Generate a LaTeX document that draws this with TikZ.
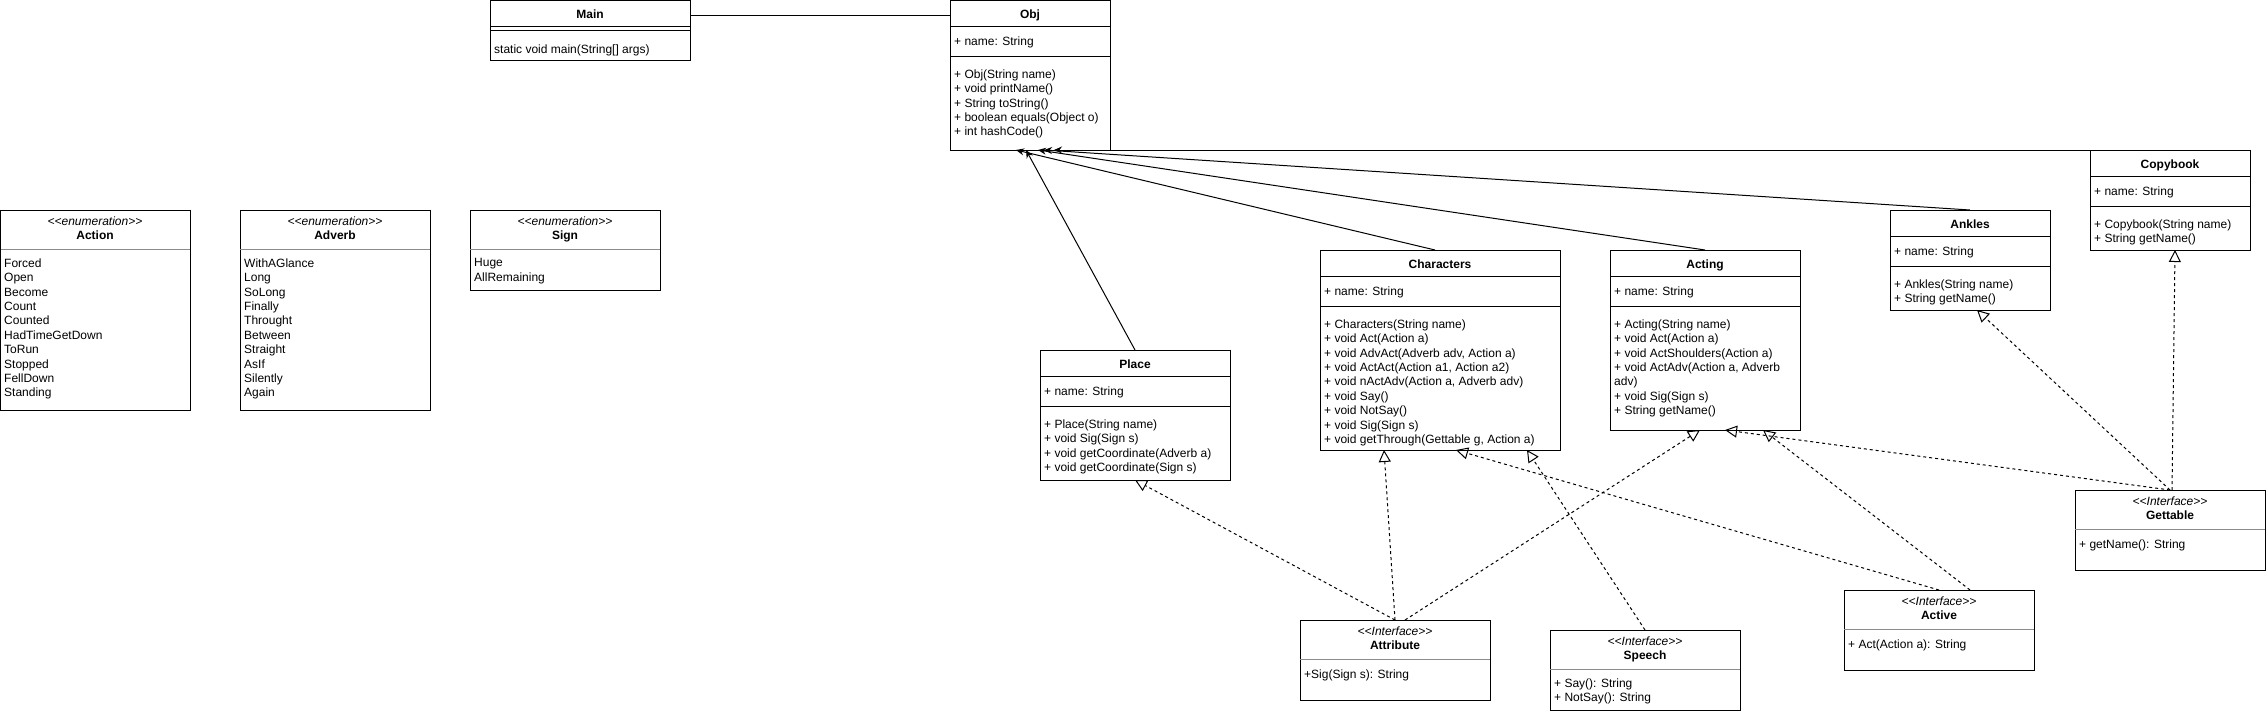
\documentclass[tikz,border=0pt]{standalone}
\usepackage{fontspec}
\setmainfont{Liberation Sans}
\usetikzlibrary{arrows.meta}

\tikzset{
	cls/.style={draw, line width=1pt, anchor=north west, inner sep=0pt, outer sep=0pt},
	ttl/.style={font=\fontsize{12}{14.4}\selectfont\bfseries, anchor=base, inner sep=0pt},
	stereo/.style={font=\fontsize{12}{14.4}\selectfont\itshape, anchor=base, inner sep=0pt},
	rows/.style={font=\fontsize{12}{14.4}\selectfont, anchor=north west, align=left, inner sep=0pt, yshift=7.6pt, execute at begin node=\strut},
	sepline/.style={line width=1pt},
	graysep/.style={line width=1pt, draw=black!45},
	assoc/.style={line width=1pt, -{Stealth[length=8pt,width=7pt]}},
	realize/.style={line width=1pt, dash pattern=on 3pt off 3pt, -{Triangle[open,length=12pt,width=12pt]}}
}

\begin{document}
\begin{tikzpicture}[x=1pt, y=-1pt]
				\useasboundingbox (0,0) rectangle (2267,712);

				\node[cls, minimum width=200pt, minimum height=60pt] (main) at (490,0) {};
				\node[ttl] (mainT) at (590,18) {Main};
				\draw[sepline] (490,26) -- (690,26);
				\draw[sepline] (490,30) -- (690,30);
				\node[rows] (mainM) at (494,51) {static void main(String[] args)};

				\node[cls, minimum width=160pt, minimum height=150pt] (obj) at (950,0) {};
				\node[ttl] (objT) at (1030,18) {Obj};
				\draw[sepline] (950,26) -- (1110,26);
				\draw[sepline] (950,56) -- (1110,56);
				\node[rows] (objA) at (954,43) {+ name: String};
				\node[rows] (objM) at (954,77) {+ Obj(String name)\\+ void printName()\\+ String toString()\\+ boolean equals(Object o)\\+ int hashCode()};

				\node[cls, minimum width=190pt, minimum height=200pt] (action) at (0.5,210) {};
				\node[stereo] (actionS) at (95,225) {<{}<enumeration>{}>};
				\node[ttl] (actionT) at (95,239) {Action};
				\draw[graysep] (0.5,249) -- (190,249);
				\node[rows] (actionV) at (4,266) {Forced\\Open\\Become\\Count\\Counted\\HadTimeGetDown\\ToRun\\Stopped\\FellDown\\Standing};

				\node[cls, minimum width=190pt, minimum height=200pt] (adverb) at (240,210) {};
				\node[stereo] (adverbS) at (335,225) {<{}<enumeration>{}>};
				\node[ttl] (adverbT) at (335,239) {Adverb};
				\draw[graysep] (240,249) -- (430,249);
				\node[rows] (adverbV) at (244,266) {WithAGlance\\Long\\SoLong\\Finally\\Throught\\Between\\Straight\\AsIf\\Silently\\Again};

				\node[cls, minimum width=190pt, minimum height=80pt] (sign) at (470,210) {};
				\node[stereo] (signS) at (565,225) {<{}<enumeration>{}>};
				\node[ttl] (signT) at (565,239) {Sign};
				\draw[graysep] (470,249) -- (660,249);
				\node[rows] (signV) at (474,266) {Huge\\AllRemaining};

				\node[cls, minimum width=190pt, minimum height=130pt] (place) at (1040,350) {};
				\node[ttl] (placeT) at (1135,368) {Place};
				\draw[sepline] (1040,376) -- (1230,376);
				\draw[sepline] (1040,406) -- (1230,406);
				\node[rows] (placeA) at (1044,393) {+ name: String};
				\node[rows] (placeM) at (1044,427) {+ Place(String name)\\+ void Sig(Sign s)\\+ void getCoordinate(Adverb a)\\+ void getCoordinate(Sign s)};

				\node[cls, minimum width=240pt, minimum height=200pt] (chars) at (1320,250) {};
				\node[ttl] (charsT) at (1440,268) {Characters};
				\draw[sepline] (1320,276) -- (1560,276);
				\draw[sepline] (1320,306) -- (1560,306);
				\node[rows] (charsA) at (1324,293) {+ name: String};
				\node[rows] (charsM) at (1324,327) {+ Characters(String name)\\+ void Act(Action a)\\+ void AdvAct(Adverb adv, Action a)\\+ void ActAct(Action a1, Action a2)\\+ void nActAdv(Action a, Adverb adv)\\+ void Say()\\+ void NotSay()\\+ void Sig(Sign s)\\+ void getThrough(Gettable g, Action a)};

				\node[cls, minimum width=190pt, minimum height=180pt] (acting) at (1610,250) {};
				\node[ttl] (actingT) at (1705,268) {Acting};
				\draw[sepline] (1610,276) -- (1800,276);
				\draw[sepline] (1610,306) -- (1800,306);
				\node[rows] (actingA) at (1614,293) {+ name: String};
				\node[rows] (actingM) at (1614,327) {+ Acting(String name)\\+ void Act(Action a)\\+ void ActShoulders(Action a)\\+ void ActAdv(Action a, Adverb\\adv)\\+ void Sig(Sign s)\\+ String getName()};

				\node[cls, minimum width=160pt, minimum height=100pt] (ankles) at (1890,210) {};
				\node[ttl] (anklesT) at (1970,228) {Ankles};
				\draw[sepline] (1890,236) -- (2050,236);
				\draw[sepline] (1890,266) -- (2050,266);
				\node[rows] (anklesA) at (1894,253) {+ name: String};
				\node[rows] (anklesM) at (1894,287) {+ Ankles(String name)\\+ String getName()};

				\node[cls, minimum width=160pt, minimum height=100pt] (copybook) at (2090,150) {};
				\node[ttl] (copybookT) at (2170,168) {Copybook};
				\draw[sepline] (2090,176) -- (2250,176);
				\draw[sepline] (2090,206) -- (2250,206);
				\node[rows] (copybookA) at (2094,193) {+ name: String};
				\node[rows] (copybookM) at (2094,227) {+ Copybook(String name)\\+ String getName()};

				\node[cls, minimum width=190pt, minimum height=80pt] (gettable) at (2075,490) {};
				\node[stereo] (gettableS) at (2170,505) {<{}<Interface>{}>};
				\node[ttl] (gettableT) at (2170,519) {Gettable};
				\draw[graysep] (2075,529) -- (2265,529);
				\node[rows] (gettableM) at (2079,546) {+ getName(): String};

				\node[cls, minimum width=190pt, minimum height=80pt] (active) at (1844,590) {};
				\node[stereo] (activeS) at (1939,605) {<{}<Interface>{}>};
				\node[ttl] (activeT) at (1939,619) {Active};
				\draw[graysep] (1844,629) -- (2034,629);
				\node[rows] (activeM) at (1848,646) {+ Act(Action a): String};

				\node[cls, minimum width=190pt, minimum height=80pt] (attr) at (1300,620) {};
				\node[stereo] (attrS) at (1395,635) {<{}<Interface>{}>};
				\node[ttl] (attrT) at (1395,649) {Attribute};
				\draw[graysep] (1300,659) -- (1490,659);
				\node[rows] (attrM) at (1304,676) {+Sig(Sign s): String};

				\node[cls, minimum width=190pt, minimum height=80pt] (speech) at (1550,630) {};
				\node[stereo] (speechS) at (1645,645) {<{}<Interface>{}>};
				\node[ttl] (speechT) at (1645,659) {Speech};
				\draw[graysep] (1550,669) -- (1740,669);
				\node[rows] (speechM) at (1554,686) {+ Say(): String\\+ NotSay(): String};

				\draw[line width=1pt] ([yshift=-15pt]main.north east) -- ([yshift=-15pt]obj.north west);

				\draw[assoc] (place.north) -- ([xshift=76pt]obj.south west);
				\draw[assoc] ([xshift=-5pt]chars.north) -- ([xshift=66pt]obj.south west);
				\draw[assoc] (acting.north) -- ([xshift=88pt]obj.south west);
				\draw[assoc] (ankles.north) -- ([xshift=94pt]obj.south west);
				\draw[assoc] (copybook.north west) -- ([xshift=104pt]obj.south west);

				\draw[realize] (attr.north) -- (place.south);
				\draw[realize] (attr.north) -- ([xshift=-56pt]chars.south);
				\draw[realize] ([xshift=10pt]attr.north) -- ([xshift=-5pt]acting.south);
				\draw[realize] (speech.north) -- ([xshift=87pt]chars.south);
				\draw[realize] (active.north) -- ([xshift=16pt]chars.south);
				\draw[realize] ([xshift=31pt]active.north) -- ([xshift=58pt]acting.south);
				\draw[realize] (gettable.north) -- ([xshift=20pt]acting.south);
				\draw[realize] (gettable.north) -- ([xshift=7pt]ankles.south);
				\draw[realize] ([xshift=2pt]gettable.north) -- ([xshift=5pt]copybook.south);
\end{tikzpicture}
\end{document}
